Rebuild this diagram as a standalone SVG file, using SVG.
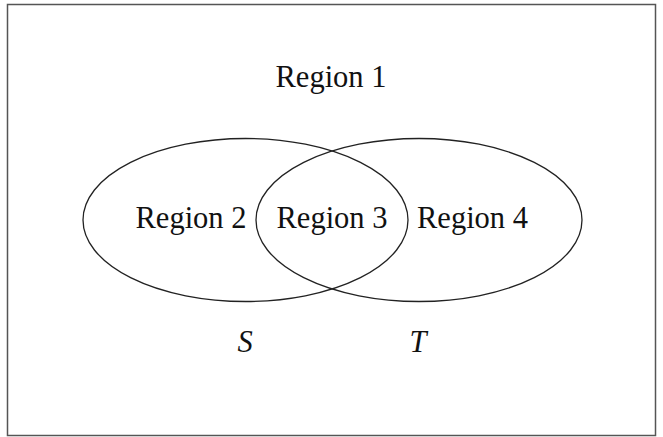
<svg xmlns="http://www.w3.org/2000/svg" width="663" height="437" viewBox="0 0 663 437">
<style>
.lbl{font-family:"Liberation Serif","Times New Roman",serif;font-size:30.5px;fill:#111;text-anchor:middle}
.it{font-style:italic}
.set{fill:none;stroke:#222;stroke-width:1.3}
</style>
<rect width="663" height="437" fill="#fff"/>
<g id="universe">
<rect x="7.5" y="4.5" width="648" height="431" fill="none" stroke="#555" stroke-width="1.5"/>
<text class="lbl" x="331" y="87">Region 1</text>
</g>
<g id="setS">
<ellipse class="set" cx="245.5" cy="220" rx="162.5" ry="81.5"/>
<text class="lbl it" x="245" y="352">S</text>
</g>
<g id="setT">
<ellipse class="set" cx="419" cy="220" rx="163" ry="81.5"/>
<text class="lbl it" x="418" y="352">T</text>
</g>
<g id="region2"><text class="lbl" x="191" y="227.5">Region 2</text></g>
<g id="region3"><text class="lbl" x="332" y="227.5">Region 3</text></g>
<g id="region4"><text class="lbl" x="472.5" y="227.5">Region 4</text></g>
<g id="connectors"></g>
</svg>
